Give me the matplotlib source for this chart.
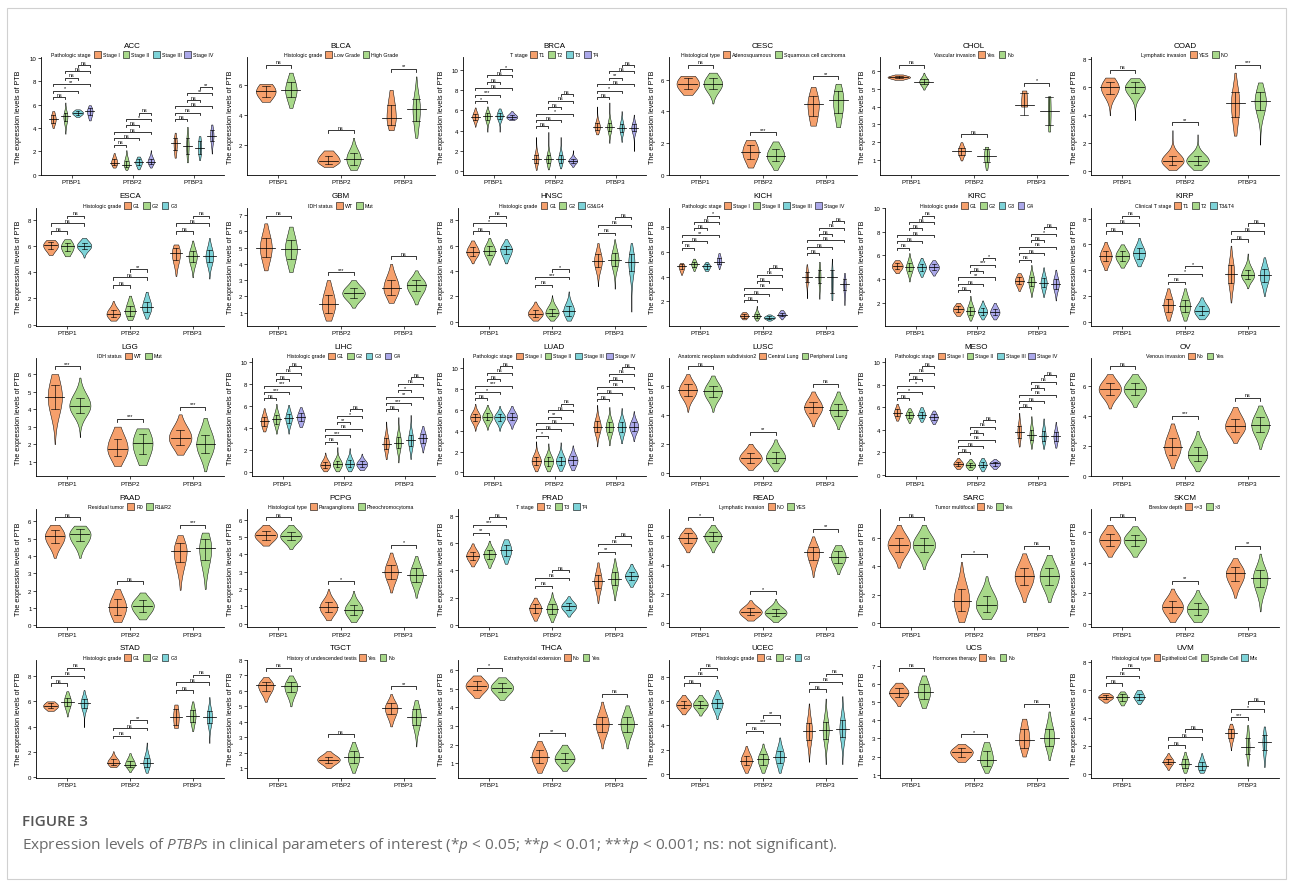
import numpy as np
import matplotlib
matplotlib.use("Agg")
import matplotlib.pyplot as plt
from matplotlib.patches import Rectangle

# ---- data: per panel, 3 genes x groups x (min, q1, median, q3, max) ----
GENES = ["PTBP1", "PTBP2", "PTBP3"]

ACC = [
    [[4.0, 4.45, 4.75, 5.1, 5.45], [3.5, 4.6, 5.0, 5.3, 6.2], [4.95, 5.15, 5.3, 5.45, 5.6], [4.65, 5.1, 5.45, 5.7, 5.95]],
    [[0.6, 0.8, 1.0, 1.3, 1.85], [0.4, 0.65, 0.85, 1.2, 2.1], [0.45, 0.8, 1.05, 1.3, 1.55], [0.6, 0.9, 1.1, 1.35, 2.1]],
    [[1.45, 2.1, 2.7, 3.1, 3.6], [1.05, 1.8, 2.45, 3.1, 4.1], [1.25, 1.8, 2.25, 2.85, 3.3], [1.8, 2.9, 3.35, 3.8, 4.3]],
]
ACC_SIG = [["ns", "*", "**", "ns", "ns", "ns"], ["ns", "ns", "ns", "ns", "*", "ns"], ["ns", "ns", "ns", "ns", "**", "**"]]

BLCA = [
    [[4.9, 5.25, 5.6, 5.95, 6.1], [4.5, 5.2, 5.7, 6.2, 6.85]],
    [[0.55, 0.75, 0.95, 1.3, 1.65], [0.35, 0.7, 1.1, 1.5, 2.5]],
    [[3.0, 3.35, 3.85, 4.7, 5.7], [2.5, 3.6, 4.45, 5.1, 6.6]],
]
BLCA_SIG = [["ns"], ["ns"], ["**"]]

BRCA = [
    [[4.4, 5.1, 5.4, 5.7, 6.3], [3.9, 5.1, 5.45, 5.75, 6.4], [3.9, 5.2, 5.5, 5.8, 6.2], [5.05, 5.2, 5.35, 5.55, 5.95]],
    [[0.15, 0.85, 1.25, 1.65, 3.4], [0.2, 0.8, 1.2, 1.6, 3.9], [0.3, 0.85, 1.2, 1.6, 3.4], [0.45, 0.85, 1.05, 1.25, 2.1]],
    [[3.65, 4.05, 4.4, 4.75, 6.4], [2.8, 4.0, 4.4, 4.8, 6.8], [2.9, 3.9, 4.3, 4.7, 5.95], [2.0, 3.95, 4.3, 4.65, 5.6]],
]
BRCA_SIG = [["*", "***", "ns", "ns", "ns", "*"], ["ns", "ns", "*", "ns", "ns", "ns"], ["ns", "*", "ns", "**", "ns", "ns"]]

CESC = [
    [[5.05, 5.4, 5.75, 6.1, 6.25], [4.5, 5.4, 5.75, 6.1, 6.45]],
    [[0.45, 1.0, 1.45, 1.9, 2.2], [0.3, 0.85, 1.2, 1.6, 2.1]],
    [[3.1, 3.7, 4.45, 5.0, 5.55], [3.0, 3.9, 4.7, 5.3, 5.75]],
]
CESC_SIG = [["ns"], ["***"], ["**"]]

CHOL = [
    [[5.5, 5.58, 5.65, 5.72, 5.8], [4.95, 5.25, 5.4, 5.55, 5.9]],
    [[0.98, 1.3, 1.5, 1.7, 2.0], [0.45, 0.9, 1.25, 1.6, 1.75]],
    [[4.0, 3.55, 4.1, 4.75, 4.9], [2.6, 2.97, 3.77, 4.55, 4.58]],
]
CHOL_SIG = [["ns"], ["ns"], ["*"]]

COAD = [
    [[3.95, 5.5, 5.95, 6.35, 6.65], [3.6, 5.55, 5.95, 6.3, 6.6]],
    [[0.05, 0.4, 0.7, 1.05, 2.9], [0.05, 0.4, 0.72, 1.05, 2.6]],
    [[2.5, 3.8, 4.8, 5.6, 7.0], [1.85, 4.3, 4.95, 5.6, 6.3]],
]
COAD_SIG = [["ns"], ["**"], ["***"]]

ESCA = [
    [[5.3, 5.75, 6.05, 6.3, 6.45], [5.2, 5.6, 5.95, 6.25, 6.5], [5.1, 5.75, 6.0, 6.25, 6.6]],
    [[0.3, 0.55, 0.8, 1.1, 1.8], [0.35, 0.65, 1.0, 1.45, 2.2], [0.45, 0.95, 1.3, 1.75, 2.5]],
    [[3.7, 4.9, 5.45, 5.85, 6.1], [3.6, 4.75, 5.2, 5.6, 6.4], [3.5, 4.75, 5.2, 5.65, 6.6]],
]
ESCA_SIG = [["ns", "ns", "ns"], ["ns", "ns", "**"], ["ns", "ns", "ns"]]

GBM = [
    [[3.6, 4.4, 5.0, 5.6, 6.5], [3.5, 4.3, 4.9, 5.5, 6.3]],
    [[0.5, 1.0, 1.5, 2.1, 3.0], [1.3, 1.9, 2.2, 2.5, 3.0]],
    [[1.6, 2.1, 2.5, 3.0, 4.0], [1.5, 2.3, 2.7, 3.0, 3.6]],
]
GBM_SIG = [["ns"], ["***"], ["ns"]]

HNSC = [
    [[4.6, 5.2, 5.5, 5.85, 6.4], [4.5, 5.25, 5.6, 5.95, 6.6], [4.6, 5.3, 5.7, 6.0, 6.5]],
    [[0.1, 0.4, 0.65, 0.95, 1.6], [0.1, 0.45, 0.7, 1.05, 2.1], [0.1, 0.5, 0.85, 1.25, 2.4]],
    [[2.8, 4.3, 4.8, 5.3, 6.2], [2.6, 4.4, 4.9, 5.4, 6.5], [0.8, 4.0, 4.7, 5.3, 6.2]],
]
HNSC_SIG = [["ns", "*", "ns"], ["ns", "***", "*"], ["ns", "ns", "ns"]]

KICH = [
    [[4.15, 4.6, 4.85, 5.0, 5.1], [4.45, 4.8, 5.0, 5.2, 5.45], [4.45, 4.65, 4.85, 5.0, 5.2], [4.6, 5.0, 5.2, 5.5, 5.9]],
    [[0.55, 0.7, 0.85, 1.0, 1.15], [0.45, 0.65, 0.8, 1.0, 1.65], [0.45, 0.6, 0.7, 0.8, 0.95], [0.55, 0.8, 0.93, 1.1, 1.3]],
    [[2.25, 3.6, 4.0, 4.4, 5.0], [2.2, 3.5, 4.0, 4.5, 5.2], [2.1, 2.7, 4.0, 4.55, 5.45], [1.7, 2.9, 3.4, 3.8, 4.3]],
]
KICH_SIG = [["ns", "ns", "**", "ns", "ns", "*"], ["ns"] * 6, ["ns"] * 6]

KIRC = [
    [[4.5, 4.85, 5.1, 5.35, 5.6], [3.8, 4.65, 5.0, 5.35, 6.2], [4.2, 4.7, 5.0, 5.3, 5.8], [4.3, 4.75, 5.0, 5.25, 5.6]],
    [[0.9, 1.2, 1.45, 1.7, 2.0], [0.5, 1.0, 1.3, 1.65, 2.6], [0.6, 1.0, 1.25, 1.55, 2.2], [0.6, 0.95, 1.2, 1.5, 2.0]],
    [[3.0, 3.55, 3.85, 4.15, 4.5], [2.5, 3.4, 3.8, 4.2, 5.2], [2.5, 3.3, 3.7, 4.1, 5.0], [2.2, 3.2, 3.6, 4.0, 4.8]],
]
KIRC_SIG = [["ns"] * 6, ["ns", "ns", "**", "ns", "***", "*"], ["ns", "ns", "ns", "ns", "*", "ns"]]

KIRP = [
    [[4.0, 4.7, 5.1, 5.5, 6.2], [4.2, 4.75, 5.1, 5.45, 6.0], [4.3, 4.9, 5.3, 5.7, 6.5]],
    [[0.1, 0.8, 1.3, 1.8, 2.6], [0.1, 0.75, 1.2, 1.7, 2.6], [0.2, 0.55, 0.85, 1.2, 1.9]],
    [[1.5, 3.0, 3.7, 4.4, 5.9], [2.6, 3.3, 3.6, 4.0, 5.3], [2.0, 3.1, 3.6, 4.1, 5.0]],
]
KIRP_SIG = [["ns", "ns", "ns"], ["ns", "*", "*"], ["ns", "ns", "ns"]]

LGG = [
    [[2.0, 4.0, 4.7, 5.4, 6.0], [2.4, 3.8, 4.2, 4.65, 5.8]],
    [[0.75, 1.3, 1.75, 2.3, 3.0], [0.8, 1.45, 2.05, 2.6, 2.9]],
    [[1.4, 1.95, 2.35, 2.8, 3.7], [0.45, 1.5, 2.0, 2.55, 3.5]],
]
LGG_SIG = [["***"], ["***"], ["***"]]

LIHC = [
    [[3.7, 4.2, 4.6, 5.0, 5.8], [3.5, 4.4, 4.8, 5.2, 6.2], [3.5, 4.5, 4.9, 5.3, 6.1], [4.1, 4.6, 5.0, 5.35, 5.9]],
    [[0.1, 0.4, 0.65, 0.95, 1.8], [0.1, 0.45, 0.75, 1.05, 2.3], [0.1, 0.45, 0.75, 1.1, 2.2], [0.2, 0.5, 0.75, 1.0, 1.7]],
    [[1.2, 2.1, 2.6, 3.1, 4.6], [0.9, 2.2, 2.7, 3.2, 5.0], [1.2, 2.4, 2.9, 3.4, 5.2], [1.8, 2.7, 3.1, 3.5, 4.2]],
]
LIHC_SIG = [["ns", "***", "***", "ns", "ns", "ns"], ["ns", "***", "ns", "**", "*", "ns"], ["ns", "***", "**", "*", "ns", "ns"]]

LUAD = [
    [[4.0, 4.95, 5.3, 5.65, 6.6], [4.1, 5.0, 5.35, 5.7, 6.5], [4.0, 4.95, 5.3, 5.6, 6.4], [4.2, 5.0, 5.35, 5.7, 6.4]],
    [[0.1, 0.7, 1.1, 1.5, 3.0], [0.1, 0.65, 1.05, 1.45, 2.8], [0.15, 0.7, 1.1, 1.5, 2.9], [0.2, 0.75, 1.15, 1.55, 2.6]],
    [[2.5, 3.9, 4.4, 4.9, 6.5], [2.6, 3.9, 4.4, 4.85, 6.3], [2.8, 3.9, 4.4, 4.85, 6.2], [3.0, 4.0, 4.4, 4.8, 5.9]],
]
LUAD_SIG = [["ns", "*", "***", "ns", "ns", "ns"], ["*", "ns", "ns", "**", "ns", "ns"], ["ns"] * 6]

LUSC = [
    [[4.2, 5.3, 5.7, 6.1, 6.8], [4.2, 5.2, 5.6, 6.0, 6.7]],
    [[0.2, 0.7, 1.0, 1.35, 2.0], [0.1, 0.7, 1.05, 1.45, 2.3]],
    [[3.2, 4.1, 4.5, 4.9, 5.6], [3.0, 3.9, 4.3, 4.75, 5.6]],
]
LUSC_SIG = [["ns"], ["**"], ["ns"]]

MESO = [
    [[4.8, 5.2, 5.5, 5.8, 6.3], [4.6, 5.05, 5.3, 5.55, 5.9], [4.7, 5.05, 5.3, 5.6, 6.0], [4.5, 4.85, 5.1, 5.35, 5.7]],
    [[0.5, 0.75, 0.95, 1.15, 1.5], [0.4, 0.65, 0.85, 1.05, 1.4], [0.3, 0.65, 0.9, 1.15, 1.5], [0.5, 0.8, 1.0, 1.15, 1.4]],
    [[2.5, 3.3, 3.8, 4.3, 5.5], [2.3, 3.1, 3.5, 4.0, 5.2], [2.3, 3.0, 3.4, 3.9, 5.0], [2.4, 3.0, 3.4, 3.8, 4.7]],
]
MESO_SIG = [["ns", "*", "*", "ns", "ns", "ns"], ["ns"] * 6, ["ns"] * 6]

OV = [
    [[4.5, 5.4, 5.8, 6.2, 6.8], [4.6, 5.4, 5.8, 6.2, 6.8]],
    [[0.5, 1.4, 1.9, 2.5, 3.5], [0.3, 1.0, 1.4, 1.9, 3.0]],
    [[2.2, 2.9, 3.3, 3.8, 4.6], [1.8, 2.9, 3.4, 3.9, 4.7]],
]
OV_SIG = [["ns"], ["***"], ["ns"]]

PAAD = [
    [[3.9, 4.75, 5.15, 5.5, 5.8], [3.9, 4.85, 5.25, 5.55, 5.75]],
    [[0.2, 0.6, 1.05, 1.5, 2.1], [0.35, 0.8, 1.15, 1.45, 1.9]],
    [[2.05, 3.65, 4.3, 4.75, 5.2], [2.1, 3.75, 4.45, 5.0, 5.35]],
]
PAAD_SIG = [["ns"], ["ns"], ["***"]]

PCPG = [
    [[4.5, 4.85, 5.1, 5.35, 5.7], [4.3, 4.8, 5.05, 5.3, 5.7]],
    [[0.2, 0.65, 0.95, 1.25, 2.0], [0.1, 0.5, 0.8, 1.1, 1.9]],
    [[1.8, 2.6, 3.0, 3.4, 4.1], [1.5, 2.4, 2.8, 3.2, 3.9]],
]
PCPG_SIG = [["ns"], ["*"], ["*"]]

PRAD = [
    [[4.3, 4.8, 5.1, 5.4, 6.0], [4.2, 4.85, 5.2, 5.5, 6.2], [4.5, 5.1, 5.5, 5.9, 6.3]],
    [[0.3, 0.85, 1.2, 1.5, 2.0], [0.2, 0.8, 1.15, 1.5, 2.4], [0.6, 1.1, 1.35, 1.6, 2.1]],
    [[1.6, 2.7, 3.2, 3.7, 4.6], [1.8, 2.9, 3.4, 3.9, 4.9], [2.8, 3.3, 3.6, 3.9, 4.5]],
]
PRAD_SIG = [["**", "***", "ns"], ["ns", "ns", "ns"], ["**", "ns", "ns"]]

READ = [
    [[4.9, 5.55, 5.9, 6.2, 6.6], [4.9, 5.65, 6.0, 6.3, 6.8]],
    [[0.2, 0.55, 0.8, 1.05, 1.6], [0.1, 0.5, 0.75, 1.0, 1.7]],
    [[3.2, 4.4, 4.9, 5.3, 6.0], [3.4, 4.2, 4.6, 5.0, 5.4]],
]
READ_SIG = [["*"], ["*"], ["**"]]

SARC = [
    [[3.9, 5.0, 5.5, 6.0, 6.9], [3.8, 5.0, 5.5, 6.0, 6.9]],
    [[0.1, 0.9, 1.6, 2.4, 4.3], [0.3, 0.8, 1.3, 1.9, 3.3]],
    [[1.5, 2.7, 3.3, 3.9, 4.9], [1.5, 2.7, 3.3, 3.9, 4.8]],
]
SARC_SIG = [["ns"], ["*"], ["ns"]]

SKCM = [
    [[4.4, 5.1, 5.5, 5.9, 6.5], [4.4, 5.1, 5.5, 5.85, 6.4]],
    [[0.1, 0.7, 1.1, 1.5, 2.3], [0.1, 0.55, 0.95, 1.35, 2.2]],
    [[1.7, 2.8, 3.3, 3.7, 4.3], [0.8, 2.4, 3.0, 3.5, 4.6]],
]
SKCM_SIG = [["ns"], ["**"], ["**"]]

STAD = [
    [[5.25, 5.45, 5.65, 5.85, 6.0], [4.8, 5.6, 5.95, 6.3, 6.8], [3.95, 5.5, 5.85, 6.2, 6.9]],
    [[0.8, 0.95, 1.15, 1.4, 2.05], [0.4, 0.8, 1.0, 1.3, 1.9], [0.35, 0.8, 1.15, 1.55, 2.75]],
    [[3.9, 4.1, 4.8, 5.4, 5.75], [3.65, 4.4, 4.85, 5.3, 6.0], [2.7, 4.3, 4.75, 5.2, 6.35]],
]
STAD_SIG = [["ns", "ns", "ns"], ["ns", "ns", "**"], ["ns", "ns", "ns"]]

TGCT = [
    [[5.3, 6.0, 6.35, 6.6, 6.9], [5.0, 5.9, 6.3, 6.6, 7.0]],
    [[1.0, 1.35, 1.55, 1.75, 2.1], [0.7, 1.3, 1.7, 2.1, 2.7]],
    [[3.7, 4.5, 4.9, 5.2, 5.8], [2.4, 3.8, 4.3, 4.8, 5.4]],
]
TGCT_SIG = [["ns"], ["ns"], ["**"]]

THCA = [
    [[4.5, 4.9, 5.15, 5.4, 5.7], [4.4, 4.8, 5.05, 5.3, 5.6]],
    [[0.5, 1.0, 1.35, 1.7, 2.2], [0.6, 1.0, 1.25, 1.55, 2.0]],
    [[1.8, 2.7, 3.1, 3.5, 4.3], [1.8, 2.7, 3.1, 3.5, 4.1]],
]
THCA_SIG = [["*"], ["**"], ["ns"]]

UCEC = [
    [[4.9, 5.4, 5.7, 6.0, 6.5], [4.8, 5.4, 5.7, 6.0, 6.5], [4.5, 5.4, 5.8, 6.2, 6.9]],
    [[0.1, 0.7, 1.1, 1.5, 2.3], [0.1, 0.75, 1.2, 1.6, 2.5], [0.1, 0.9, 1.4, 1.9, 3.0]],
    [[1.0, 2.8, 3.5, 4.2, 5.8], [0.8, 2.9, 3.6, 4.3, 6.2], [0.8, 3.0, 3.7, 4.4, 6.4]],
]
UCEC_SIG = [["ns", "ns", "ns"], ["ns", "***", "**"], ["ns", "ns", "ns"]]

UCS = [
    [[4.8, 5.3, 5.55, 5.8, 6.1], [4.7, 5.2, 5.6, 6.0, 6.5]],
    [[1.7, 2.0, 2.25, 2.45, 2.7], [1.1, 1.5, 1.8, 2.3, 2.8]],
    [[2.0, 2.5, 2.9, 3.5, 4.1], [1.8, 2.6, 3.0, 3.5, 4.5]],
]
UCS_SIG = [["ns"], ["*"], ["ns"]]

UVM = [
    [[5.1, 5.35, 5.5, 5.65, 5.8], [4.9, 5.25, 5.5, 5.7, 5.9], [5.0, 5.3, 5.5, 5.75, 6.0]],
    [[0.3, 0.7, 0.9, 1.1, 1.5], [0.1, 0.45, 0.75, 1.05, 1.6], [0.1, 0.3, 0.55, 0.85, 1.5]],
    [[1.7, 2.6, 2.95, 3.25, 3.6], [0.6, 1.4, 1.9, 2.6, 3.5], [0.5, 1.7, 2.3, 2.8, 3.4]],
]
UVM_SIG = [["ns", "ns", "ns"], ["ns", "ns", "ns"], ["***", "*", "ns"]]

STAGES = ["Stage I", "Stage II", "Stage III", "Stage IV"]
GRADES3 = ["G1", "G2", "G3"]
GRADES4 = ["G1", "G2", "G3", "G4"]

# name, values, significance, legend title, group labels, y tick step
PANELS = [
    ("ACC", ACC, ACC_SIG, "Pathologic stage", STAGES, 2),
    ("BLCA", BLCA, BLCA_SIG, "Histologic grade", ["Low Grade", "High Grade"], 2),
    ("BRCA", BRCA, BRCA_SIG, "T stage", ["T1", "T2", "T3", "T4"], 2),
    ("CESC", CESC, CESC_SIG, "Histological type", ["Adenosquamous", "Squamous cell carcinoma"], 2),
    ("CHOL", CHOL, CHOL_SIG, "Vascular invasion", ["Yes", "No"], 1),
    ("COAD", COAD, COAD_SIG, "Lymphatic invasion", ["YES", "NO"], 2),
    ("ESCA", ESCA, ESCA_SIG, "Histologic grade", GRADES3, 2),
    ("GBM", GBM, GBM_SIG, "IDH status", ["WT", "Mut"], 1),
    ("HNSC", HNSC, HNSC_SIG, "Histologic grade", ["G1", "G2", "G3&G4"], 2),
    ("KICH", KICH, KICH_SIG, "Pathologic stage", STAGES, 2),
    ("KIRC", KIRC, KIRC_SIG, "Histologic grade", GRADES4, 2),
    ("KIRP", KIRP, KIRP_SIG, "Clinical T stage", ["T1", "T2", "T3&T4"], 2),
    ("LGG", LGG, LGG_SIG, "IDH status", ["WT", "Mut"], 1),
    ("LIHC", LIHC, LIHC_SIG, "Histologic grade", GRADES4, 2),
    ("LUAD", LUAD, LUAD_SIG, "Pathologic stage", STAGES, 2),
    ("LUSC", LUSC, LUSC_SIG, "Anatomic neoplasm subdivision2", ["Central Lung", "Peripheral Lung"], 2),
    ("MESO", MESO, MESO_SIG, "Pathologic stage", STAGES, 2),
    ("OV", OV, OV_SIG, "Venous invasion", ["No", "Yes"], 2),
    ("PAAD", PAAD, PAAD_SIG, "Residual tumor", ["R0", "R1&R2"], 1),
    ("PCPG", PCPG, PCPG_SIG, "Histological type", ["Paraganglioma", "Pheochromocytoma"], 1),
    ("PRAD", PRAD, PRAD_SIG, "T stage", ["T2", "T3", "T4"], 2),
    ("READ", READ, READ_SIG, "Lymphatic invasion", ["NO", "YES"], 2),
    ("SARC", SARC, SARC_SIG, "Tumor multifocal", ["No", "Yes"], 2),
    ("SKCM", SKCM, SKCM_SIG, "Breslow depth", ["<=3", ">3"], 2),
    ("STAD", STAD, STAD_SIG, "Histologic grade", GRADES3, 2),
    ("TGCT", TGCT, TGCT_SIG, "History of undescended testis", ["Yes", "No"], 1),
    ("THCA", THCA, THCA_SIG, "Extrathyroidal extension", ["No", "Yes"], 1),
    ("UCEC", UCEC, UCEC_SIG, "Histologic grade", GRADES3, 2),
    ("UCS", UCS, UCS_SIG, "Hormones therapy", ["Yes", "No"], 1),
    ("UVM", UVM, UVM_SIG, "Histological type", ["Epithelioid Cell", "Spindle Cell", "Mix"], 2),
]

COLORS = ["#F6A06C", "#A8D98A", "#7DD3D8", "#ABA8EA"]
PAIRS = {2: [(0, 1)], 3: [(0, 1), (0, 2), (1, 2)],
         4: [(0, 1), (0, 2), (0, 3), (1, 2), (1, 3), (2, 3)]}

W, H = 1293, 887
plt.rcParams["font.family"] = ["Liberation Sans", "DejaVu Sans"]
plt.rcParams["mathtext.fontset"] = "custom"
plt.rcParams["mathtext.rm"] = "Open Sans"
plt.rcParams["mathtext.it"] = "Open Sans:italic"


def fx(x):
    return x / W


def fy(y):
    return 1 - y / H


def profile(v, n=120):
    lo, q1, med, q3, hi = v
    ys = np.linspace(lo, hi, n)
    sl = max(med - q1, 0.02) / 0.674
    sh = max(q3 - med, 0.02) / 0.674
    s = np.where(ys < med, sl, sh)
    d = np.exp(-0.5 * ((ys - med) / s) ** 2)
    return ys, d / np.trapezoid(d, ys)


def draw_legend(fig, rend, cx, cy, title, labels):
    fs = 3.8
    key = 6.8
    t = fig.text(0, fy(cy), title, fontsize=fs, va="center", ha="left")
    tw = t.get_window_extent(rend).width
    objs, ws = [], []
    for lab in labels:
        o = fig.text(0, fy(cy), lab, fontsize=fs, va="center", ha="left")
        objs.append(o)
        ws.append(o.get_window_extent(rend).width)
    total = tw + sum(3 + key + 2 + w for w in ws)
    x = cx - total / 2
    t.set_x(fx(x))
    x += tw
    for o, w, col in zip(objs, ws, COLORS):
        x += 3
        fig.add_artist(Rectangle((fx(x), fy(cy + key / 2)), key / W, key / H,
                                 transform=fig.transFigure, facecolor=col,
                                 edgecolor="black", lw=0.4))
        x += key + 2
        o.set_x(fx(x))
        x += w


fig = plt.figure(figsize=(W / 100, H / 100), dpi=100)
rend = fig.canvas.get_renderer()

for idx, (name, vals, sig, ltitle, groups, ystep) in enumerate(PANELS):
    r, c = divmod(idx, 6)
    k = len(groups)
    slot = 0.8 / k
    all_v = [v for gene in vals for v in gene]
    lo_min = min(v[0] for v in all_v)
    hi_max = max(v[4] for v in all_v)
    S = hi_max - lo_min

    # bracket heights
    brackets = []
    top_br = hi_max
    for g in range(3):
        base = max(v[4] for v in vals[g]) + 0.08 * S
        for j, (a, b) in enumerate(PAIRS[k]):
            y = base + j * 0.095 * S
            brackets.append((g, a, b, y, sig[g][j]))
            top_br = max(top_br, y)
    ytop = top_br + 0.075 * (top_br - lo_min)
    ybot = lo_min - 0.045 * (ytop - lo_min)
    ticks = np.arange(np.ceil(ybot / ystep) * ystep, ytop + 1e-9, ystep)

    P = 12 + 211 * c
    left = P + 24 + (5 if ticks.max() >= 10 else 0)
    right = P + 212
    top = 58 + 150.7 * r
    bottom = top + 118
    ax = fig.add_axes([fx(left), fy(bottom), (right - left) / W, (bottom - top) / H])

    profs = [[profile(v) for v in gene] for gene in vals]
    dmax = max(p[1].max() for gene in profs for p in gene)
    sc = 0.45 * slot / dmax

    for g in range(3):
        for i in range(k):
            x = g + (i - (k - 1) / 2) * slot
            ys, d = profs[g][i]
            lo, q1, med, q3, hi = vals[g][i]
            ax.fill_betweenx(ys, x - d * sc, x + d * sc, facecolor=COLORS[i],
                             edgecolor="black", lw=0.35, zorder=2)
            ax.plot([x - 0.375 * slot, x + 0.375 * slot], [med, med], color="black", lw=0.55, zorder=3)
            ax.plot([x, x], [q1, q3], color="black", lw=0.45, zorder=3)
            for q in (q1, q3):
                ax.plot([x - 0.15 * slot, x + 0.15 * slot], [q, q], color="black", lw=0.45, zorder=3)

    tip = 0.03 * S
    for g, a, b, y, lab in brackets:
        x1 = g + (a - (k - 1) / 2) * slot
        x2 = g + (b - (k - 1) / 2) * slot
        ax.plot([x1, x1, x2, x2], [y - tip, y, y, y - tip], color="black", lw=0.55, zorder=3)
        ax.text((x1 + x2) / 2, y + 0.004 * S, lab, ha="center", va="bottom", fontsize=3.9)

    ax.set_xlim(-0.5, 2.5)
    ax.set_ylim(ybot, ytop)
    ax.set_xticks(range(3))
    ax.set_xticklabels(GENES)
    ax.set_yticks(ticks)
    ax.set_yticklabels([str(int(round(t))) for t in ticks])
    ax.tick_params(length=2, width=0.5, pad=1.2, labelsize=4.4, colors="black")
    for s in ("top", "right"):
        ax.spines[s].set_visible(False)
    for s in ("left", "bottom"):
        ax.spines[s].set_linewidth(0.6)

    cx = (left + right) / 2
    fig.text(fx(cx), fy(top - 12), name, ha="center", va="center", fontsize=5.8)
    draw_legend(fig, rend, cx, top - 2.5, ltitle, groups)
    fig.text(fx(P + 7), fy((top + bottom) / 2), "The expression levels of PTB",
             rotation=90, ha="center", va="center", fontsize=5.1)

# frame and caption
fig.add_artist(Rectangle((fx(7), fy(880)), (1286 - 7) / W, (880 - 9) / H,
                         transform=fig.transFigure, fill=False,
                         edgecolor="#d0d0d0", lw=0.8))
fig.text(fx(22), fy(822), "FIGURE 3", fontsize=11, color="#555555",
         family="Open Sans", weight="semibold", ha="left", va="center")
fig.text(fx(22), fy(846),
         r"Expression levels of $\mathit{PTBPs}$ in clinical parameters of interest "
         r"(*$\mathit{p}$ < 0.05; **$\mathit{p}$ < 0.01; ***$\mathit{p}$ < 0.001; ns: not significant).",
         fontsize=11.1, color="#6a6a6a", family="Open Sans", ha="left", va="center")

fig.savefig("out.png", dpi=100)
